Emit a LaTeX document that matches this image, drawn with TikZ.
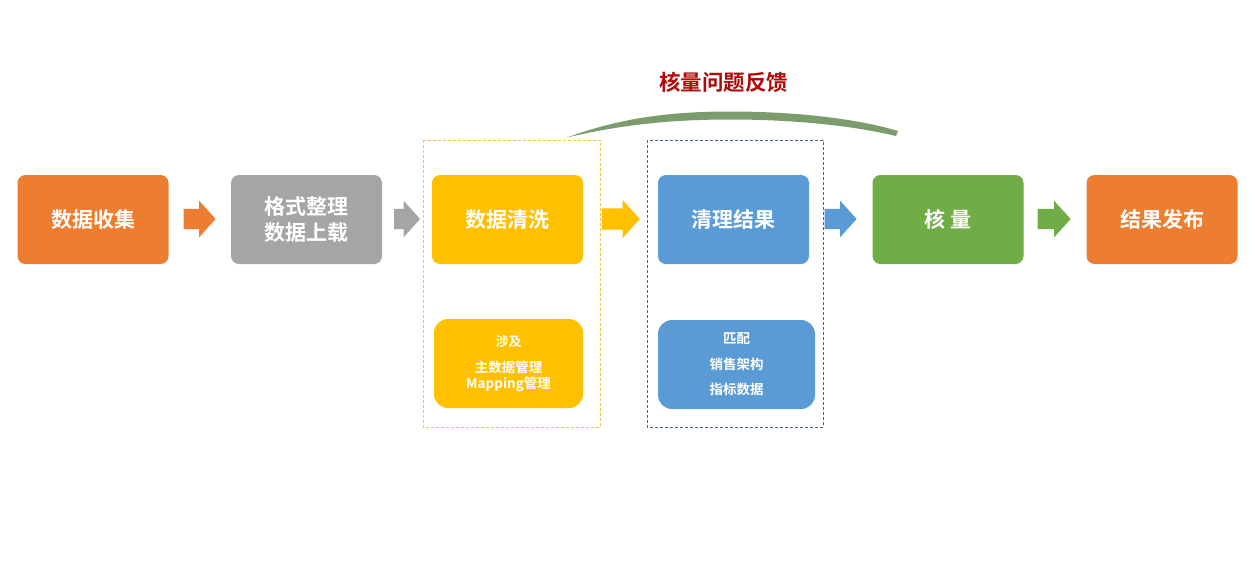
\documentclass[tikz,border=0pt]{standalone}
\usepackage{fontspec}
\setmainfont{Noto Sans CJK SC}
\newfontfamily\cjkb{Noto Sans CJK SC Bold}
\usetikzlibrary{shapes.arrows}
\definecolor{cOrange}{HTML}{ED7D31}
\definecolor{cGray}{HTML}{A5A5A5}
\definecolor{cYellow}{HTML}{FFC000}
\definecolor{cBlue}{HTML}{5B9BD5}
\definecolor{cGreen}{HTML}{70AD47}
\definecolor{cRed}{HTML}{B00A0A}
\definecolor{cArc}{HTML}{7D9C6E}
\definecolor{cDashY}{HTML}{EDC54A}
\definecolor{cDashB}{HTML}{4A6485}
\tikzset{
  mainbox/.style={rounded corners=8pt, minimum width=151pt, minimum height=89pt, inner sep=0pt,
    text=white, font=\cjkb\fontsize{21}{26}\selectfont, align=center},
  subbox/.style={rounded corners=14pt, inner sep=0pt},
  subtext/.style={font=\cjkb\fontsize{13.5}{15}\selectfont, text=white, inner sep=0pt},
  blockarrow/.style={single arrow, minimum height=32pt, inner xsep=0pt, inner ysep=10pt,
    single arrow head extend=8pt, single arrow tip angle=96, draw=none},
  dashframe/.style={line width=0.8pt, dash pattern=on 3pt off 2pt}
}
\begin{document}
\begin{tikzpicture}[x=1pt,y=-1pt]
\useasboundingbox[fill=white] (0,0) rectangle (1255,560);
% dashed frames
\draw[dashframe, draw=cDashY] (423,140) rectangle (600,427);
\draw[dashframe, draw=cDashB] (647,140) rectangle (823,427);
% main boxes
\node[mainbox, fill=cOrange] (b1) at (93,219.5) {数据收集};
\node[mainbox, fill=cGray] (b2) at (306.5,219.5) {格式整理\\数据上载};
\node[mainbox, fill=cYellow] (b3) at (507.5,219.5) {数据清洗};
\node[mainbox, fill=cBlue] (b4) at (733.5,219.5) {清理结果};
\node[mainbox, fill=cGreen] (b5) at (948,219.5) {核 量};
\node[mainbox, fill=cOrange] (b6) at (1162,219.5) {结果发布};
% arrows
\node[blockarrow, fill=cOrange] (a1) at (195,219) {};
\node[blockarrow, fill=cGray, minimum height=26pt] (a2) at (402.5,219) {};
\node[blockarrow, fill=cYellow, minimum height=38pt, inner ysep=10.5pt, single arrow head extend=8.5pt] (a3) at (616,219) {};
\node[blockarrow, fill=cBlue] (a4) at (836,219) {};
\node[blockarrow, fill=cGreen, minimum height=33pt] (a5) at (1049.5,219) {};
% sub boxes
\node[subbox, fill=cYellow, minimum width=149pt, minimum height=89pt] (s1) at (508.5,363.5) {};
\node[subtext, font=\cjkb\fontsize{13}{15}\selectfont] (s1a) at (508.5,342) {涉及};
\node[subtext] (s1b) at (508.5,367) {主数据管理};
\node[subtext] (s1c) at (508.5,384) {Mapping管理};
\node[subbox, fill=cBlue, minimum width=157pt, minimum height=89pt] (s2) at (736.5,364.5) {};
\node[subtext] (s2a) at (736.5,339) {匹配};
\node[subtext] (s2b) at (736.5,364) {销售架构};
\node[subtext] (s2c) at (736.5,389) {指标数据};
% feedback arc
\fill[cArc] (567,137.5) .. controls (620,118) and (670,111.5) .. (730,111.5)
  .. controls (800,111.5) and (860,119.5) .. (898,131)
  -- (896,136) .. controls (850,125) and (790,119.5) .. (730,119.5)
  .. controls (670,119.5) and (620,125) .. (567,137.5) -- cycle;
\node[font=\cjkb\fontsize{21.5}{25}\selectfont, text=cRed] (t) at (723.5,82) {核量问题反馈};
\end{tikzpicture}
\end{document}
